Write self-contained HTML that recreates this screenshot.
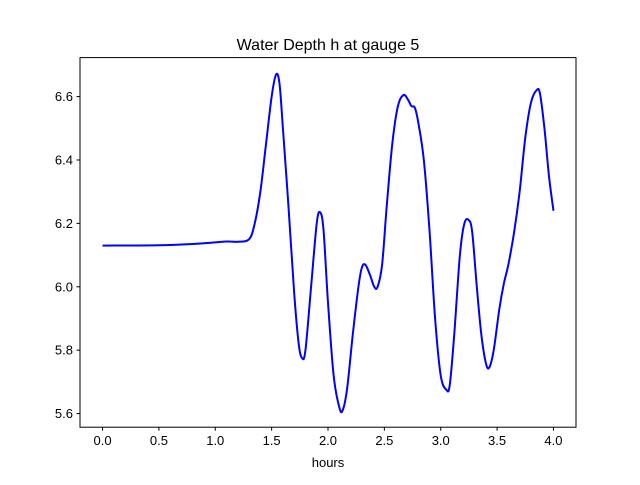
<!DOCTYPE html>
<html><head><meta charset="utf-8"><style>
body{margin:0;background:#fff}
svg{font-family:"Liberation Sans","DejaVu Sans",sans-serif}
</style></head><body>
<svg id="chart" width="640" height="480" viewBox="0 0 640 480">
<rect width="640" height="480" fill="#fff"/>
<text x="328" y="50" text-anchor="middle" font-size="16">Water Depth h at gauge 5</text>
<g id="ticks"></g>
<path id="line" fill="none" stroke="#0000ff" stroke-width="2" stroke-linejoin="round"/>
<rect x="80" y="57.6" width="496" height="369.6" fill="none" stroke="#000" stroke-width="1"/>
<text x="328" y="467" text-anchor="middle" font-size="13">hours</text>
</svg>
<script>
const hours=[0,0.5,0.8,1.0,1.1,1.2,1.3,1.35,1.4,1.45,1.5,1.54,1.57,1.6,1.65,1.7,1.74,1.77,1.8,1.85,1.9,1.93,1.96,2.0,2.05,2.1,2.13,2.17,2.22,2.27,2.3,2.33,2.37,2.41,2.44,2.48,2.52,2.57,2.62,2.67,2.71,2.74,2.77,2.8,2.85,2.9,2.95,3.0,3.05,3.08,3.12,3.17,3.21,3.25,3.28,3.32,3.36,3.4,3.43,3.47,3.52,3.56,3.6,3.65,3.7,3.75,3.8,3.85,3.88,3.92,3.96,4.0];
const depth=[6.13,6.131,6.135,6.14,6.143,6.142,6.15,6.2,6.3,6.45,6.6,6.67,6.64,6.5,6.25,5.98,5.82,5.775,5.8,6.0,6.2,6.235,6.18,5.95,5.72,5.62,5.61,5.68,5.85,6.0,6.06,6.07,6.04,6.0,6.0,6.07,6.25,6.45,6.57,6.605,6.59,6.57,6.565,6.52,6.4,6.18,5.9,5.72,5.675,5.69,5.85,6.1,6.2,6.21,6.17,6.0,5.85,5.76,5.745,5.8,5.93,6.01,6.07,6.17,6.3,6.47,6.58,6.62,6.61,6.5,6.35,6.24];
const xTicks=[0,0.5,1,1.5,2,2.5,3,3.5,4];
const xTickLabels=["0.0","0.5","1.0","1.5","2.0","2.5","3.0","3.5","4.0"];
const yTicks=[5.6,5.8,6.0,6.2,6.4,6.6];
const yTickLabels=["5.6","5.8","6.0","6.2","6.4","6.6"];
const L=80,R=576,T=57.6,B=427.2;
const xmin=Math.min(...hours),xmax=Math.max(...hours),xm=(xmax-xmin)*0.05;
const ymin=Math.min(...depth),ymax=Math.max(...depth),ym=(ymax-ymin)*0.05;
const X=v=>L+(v-(xmin-xm))/((xmax+xm)-(xmin-xm))*(R-L);
const Y=v=>B-(v-(ymin-ym))/((ymax+ym)-(ymin-ym))*(B-T);
const NS="http://www.w3.org/2000/svg";
const g=document.getElementById('ticks');
function mk(t,a){const e=document.createElementNS(NS,t);for(const k in a)e.setAttribute(k,a[k]);return e;}
xTicks.forEach((v,i)=>{
 const l=mk('line',{x1:X(v),x2:X(v),y1:B,y2:B+3.5,stroke:'#000'});
 
 
 g.appendChild(l);
 const t=mk('text',{x:X(v),y:B+18,'text-anchor':'middle','font-size':'13'});
 t.textContent=xTickLabels[i];
 
 
 g.appendChild(t);
});
yTicks.forEach((v,i)=>{
 const l=mk('line',{x1:L-3.5,x2:L,y1:Y(v),y2:Y(v),stroke:'#000'});
 
 
 g.appendChild(l);
 const t=mk('text',{x:L-7,y:Y(v)+4.5,'text-anchor':'end','font-size':'13'});
 t.textContent=yTickLabels[i];
 
 
 g.appendChild(t);
});
const P=hours.map((h,i)=>[X(h),Y(depth[i])]);
let d='M'+P[0][0]+','+P[0][1];
for(let i=0;i<P.length-1;i++){
 const p0=P[Math.max(0,i-1)],p1=P[i],p2=P[i+1],p3=P[Math.min(P.length-1,i+2)];
 const c1=[p1[0]+(p2[0]-p0[0])/6,p1[1]+(p2[1]-p0[1])/6];
 const c2=[p2[0]-(p3[0]-p1[0])/6,p2[1]-(p3[1]-p1[1])/6];
 d+=` C${c1[0]},${c1[1]} ${c2[0]},${c2[1]} ${p2[0]},${p2[1]}`;
}
document.getElementById('line').setAttribute('d',d);
</script>
</body></html>
